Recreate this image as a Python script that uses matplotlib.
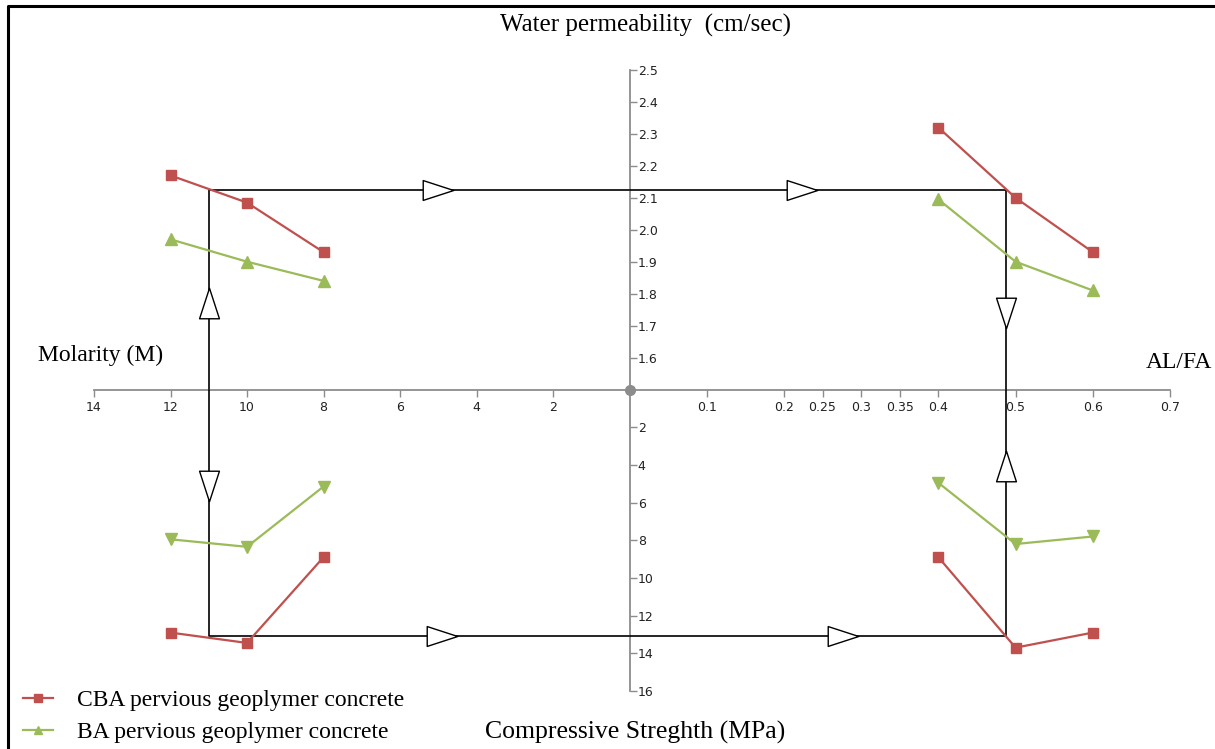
import matplotlib
matplotlib.use("Agg")
import matplotlib.pyplot as plt
from matplotlib.lines import Line2D
from matplotlib.path import Path

# ---- data ----
molarity = [12, 10, 8]
al_fa = [0.4, 0.5, 0.6]

perm_cba_m = [2.17, 2.085, 1.93]
perm_ba_m = [1.97, 1.90, 1.84]
perm_cba_r = [2.32, 2.10, 1.93]
perm_ba_r = [2.095, 1.90, 1.81]

cs_cba_m = [12.9, 13.45, 8.9]
cs_ba_m = [7.95, 8.35, 5.15]
cs_cba_r = [8.9, 13.7, 12.9]
cs_ba_r = [4.95, 8.2, 7.8]

m_ticks = [14, 12, 10, 8, 6, 4, 2]
r_ticks = [0.1, 0.2, 0.25, 0.3, 0.35, 0.4, 0.5, 0.6, 0.7]
perm_ticks = [1.6, 1.7, 1.8, 1.9, 2.0, 2.1, 2.2, 2.3, 2.4, 2.5]
cs_ticks = [2, 4, 6, 8, 10, 12, 14, 16]

# cycle frame (molarity 11, AL/FA 0.488, permeability 2.125, strength 13.1)
frame_m, frame_r, frame_top, frame_bot = 11, 0.488, 2.125, 13.1
arrows_top = [5.0, 0.223]
arrows_bot = [4.9, 0.276]
arrows_left = [1.77, 5.1]
arrows_right = [1.74, 4.05]

CBA = '#c0504d'
BA = '#9bbb59'
GREY = '#8c8c8c'
SERIF = 'Liberation Serif'

W, H = 1215, 749
fig = plt.figure(figsize=(W / 100, H / 100), dpi=100)

ox, oy = 629.5, 389.5
xl, xr, yt, yb = 94, 1170, 70, 691


def make_ax(x0, x1, y0, y1):
    ax = fig.add_axes([x0 / W, 1 - y1 / H, (x1 - x0) / W, (y1 - y0) / H])
    ax.patch.set_visible(False)
    for s in ax.spines.values():
        s.set_visible(False)
    ax.set_xticks([])
    ax.set_yticks([])
    return ax


ax_tl = make_ax(xl, ox, yt, oy)
ax_tr = make_ax(ox, xr, yt, oy)
ax_bl = make_ax(xl, ox, oy, yb)
ax_br = make_ax(ox, xr, oy, yb)

for ax in (ax_tl, ax_bl):
    ax.set_xlim(14, 0)
for ax in (ax_tr, ax_br):
    ax.set_xlim(0, 0.7)
for ax in (ax_tl, ax_tr):
    ax.set_ylim(1.5, 2.5)
for ax in (ax_bl, ax_br):
    ax.set_ylim(16, 0)

tick_kw = dict(colors='#333333', labelcolor='#222222', labelsize=9,
               length=5, width=1, direction='out', color=GREY)

# horizontal axis
for ax, ticks, fmt in ((ax_tl, m_ticks, '{:g}'), (ax_tr, r_ticks, '{:g}')):
    ax.spines['bottom'].set_visible(True)
    ax.spines['bottom'].set_color(GREY)
    ax.spines['bottom'].set_linewidth(1.3)
    ax.set_xticks(ticks)
    ax.set_xticklabels([fmt.format(t) for t in ticks])
    ax.tick_params(axis='x', **tick_kw, pad=3)

# vertical axis
ax_tl.spines['right'].set_visible(True)
ax_tl.yaxis.tick_right()
ax_tl.set_yticks(perm_ticks)
ax_tl.set_yticklabels(['{:.1f}'.format(t) for t in perm_ticks])
ax_bl.spines['right'].set_visible(True)
ax_bl.yaxis.tick_right()
ax_bl.set_yticks(cs_ticks)
ax_bl.set_yticklabels([str(t) for t in cs_ticks])
for ax in (ax_tl, ax_bl):
    ax.spines['right'].set_color(GREY)
    ax.spines['right'].set_linewidth(1.3)
    ax.tick_params(axis='y', **tick_kw, pad=1)

ax_tl.plot([0], [1.5], 'o', color=GREY, ms=7, clip_on=False, zorder=5)

# cycle frame
fk = dict(color='black', lw=1.2, clip_on=False, zorder=2)
ax_tl.plot([frame_m, frame_m, 0], [1.5, frame_top, frame_top], **fk)
ax_tr.plot([0, frame_r, frame_r], [frame_top, frame_top, 1.5], **fk)
ax_bl.plot([frame_m, frame_m, 0], [0, frame_bot, frame_bot], **fk)
ax_br.plot([0, frame_r, frame_r], [frame_bot, frame_bot, 0], **fk)

tri_r = Path([(-1, -0.65), (1, 0), (-1, 0.65), (-1, -0.65)],
             [Path.MOVETO, Path.LINETO, Path.LINETO, Path.CLOSEPOLY])
tri_u = Path([(-0.65, -1), (0, 1), (0.65, -1), (-0.65, -1)],
             [Path.MOVETO, Path.LINETO, Path.LINETO, Path.CLOSEPOLY])
tri_d = Path([(-0.65, 1), (0, -1), (0.65, 1), (-0.65, 1)],
             [Path.MOVETO, Path.LINETO, Path.LINETO, Path.CLOSEPOLY])
ak = dict(ms=22, mfc='white', mec='black', mew=1.0, ls='none',
          clip_on=False, zorder=4)
ax_tl.plot([arrows_top[0]], [frame_top], marker=tri_r, **ak)
ax_tr.plot([arrows_top[1]], [frame_top], marker=tri_r, **ak)
ax_bl.plot([arrows_bot[0]], [frame_bot], marker=tri_r, **ak)
ax_br.plot([arrows_bot[1]], [frame_bot], marker=tri_r, **ak)
ax_tl.plot([frame_m], [arrows_left[0]], marker=tri_u, **ak)
ax_bl.plot([frame_m], [arrows_left[1]], marker=tri_d, **ak)
ax_tr.plot([frame_r], [arrows_right[0]], marker=tri_d, **ak)
ax_br.plot([frame_r], [arrows_right[1]], marker=tri_u, **ak)

# series
sk = dict(lw=1.6, clip_on=False, zorder=3)
ax_tl.plot(molarity, perm_cba_m, color=CBA, marker='s', ms=7, **sk)
ax_tl.plot(molarity, perm_ba_m, color=BA, marker='^', ms=8, **sk)
ax_tr.plot(al_fa, perm_cba_r, color=CBA, marker='s', ms=7, **sk)
ax_tr.plot(al_fa, perm_ba_r, color=BA, marker='^', ms=8, **sk)
ax_bl.plot(molarity, cs_cba_m, color=CBA, marker='s', ms=7, **sk)
ax_bl.plot(molarity, cs_ba_m, color=BA, marker='v', ms=8, **sk)
ax_br.plot(al_fa, cs_cba_r, color=CBA, marker='s', ms=7, **sk)
ax_br.plot(al_fa, cs_ba_r, color=BA, marker='v', ms=8, **sk)

# titles
tk = dict(family=SERIF, color='black')
fig.text(646 / W, 1 - 25 / H, 'Water permeability  (cm/sec)', ha='center', va='center',
         fontsize=18, **tk)
fig.text(38 / W, 1 - 355 / H, 'Molarity (M)', ha='left', va='center', fontsize=17, **tk)
fig.text(1212 / W, 1 - 362 / H, 'AL/FA', ha='right', va='center', fontsize=17, **tk)
fig.text(635 / W, 1 - 732 / H, 'Compressive Streghth (MPa)', ha='center', va='center',
         fontsize=18.5, **tk)

handles = [Line2D([], [], color=CBA, marker='s', ms=6, lw=1.6),
           Line2D([], [], color=BA, marker='^', ms=6, lw=1.6)]
fig.legend(handles, ['CBA pervious geoplymer concrete', 'BA pervious geoplymer concrete'],
           loc='lower left', bbox_to_anchor=(6 / W, -11 / H), frameon=False,
           prop={'family': SERIF, 'size': 17}, handlelength=1.3,
           handletextpad=1.0, labelspacing=0.45, borderpad=0.2)

# picture border (left and top)
fig.add_artist(Line2D([8 / W, 8 / W, 1], [0, 1 - 6 / H, 1 - 6 / H],
                      transform=fig.transFigure, color='black', lw=2.2))

fig.savefig('out.png', dpi=100)
